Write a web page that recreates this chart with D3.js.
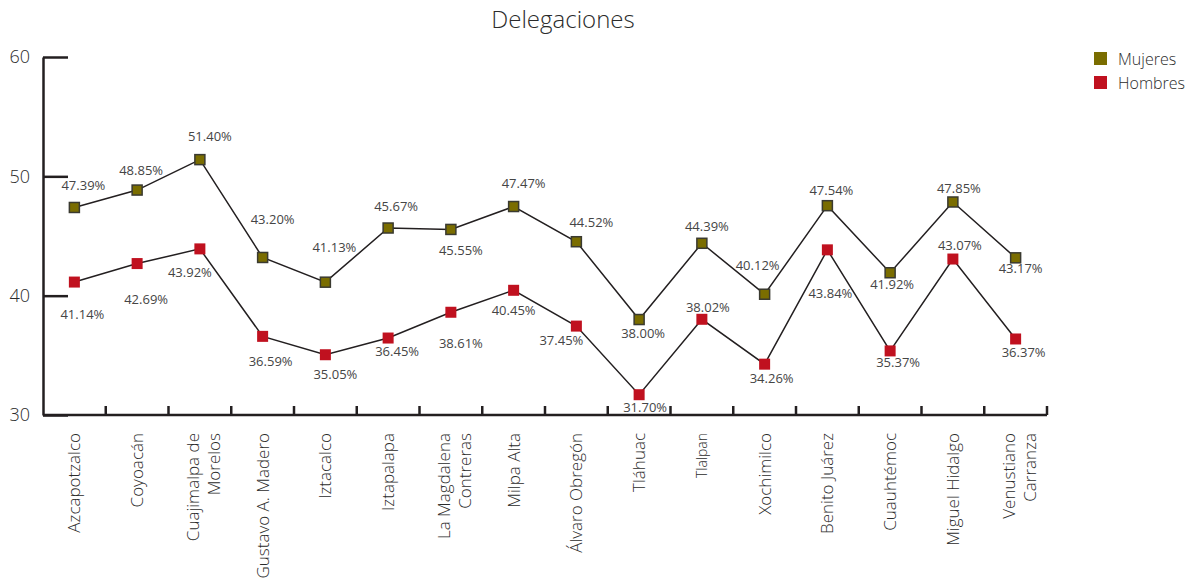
<!DOCTYPE html>
<html>
<head>
<meta charset="utf-8">
<script src="https://cdn.jsdelivr.net/npm/d3@7"></script>
<style>
	body { margin: 0; background: #fff; }
	svg { display: block; font-family: "Open Sans", "Noto Sans", sans-serif; font-weight: 300; }
</style>
</head>
<body>
<svg></svg>
<script>
var svg = d3.select("svg"),
	width = 1198,
	height = 588;

svg.attr("width", width).attr("height", height);

// Data
var delegaciones = [
	["Azcapotzalco"], ["Coyoacán"], ["Cuajimalpa de", "Morelos"], ["Gustavo A. Madero"],
	["Iztacalco"], ["Iztapalapa"], ["La Magdalena", "Contreras"], ["Milpa Alta"],
	["Álvaro Obregón"], ["Tláhuac"], ["Tlalpan"], ["Xochimilco"],
	["Benito Juárez"], ["Cuauhtémoc"], ["Miguel Hidalgo"], ["Venustiano", "Carranza"]
];
var mujeres = [47.39, 48.85, 51.40, 43.20, 41.13, 45.67, 45.55, 47.47, 44.52, 38.00, 44.39, 40.12, 47.54, 41.92, 47.85, 43.17];
var hombres = [41.14, 42.69, 43.92, 36.59, 35.05, 36.45, 38.61, 40.45, 37.45, 31.70, 38.02, 34.26, 43.84, 35.37, 43.07, 36.37];
var yTicks = [30, 40, 50, 60];

// label nudges (dx, dy) so they sit like in the original
var offMujeres = [[9,-22],[4,-20],[10,-23],[10,-38],[9,-35],[8,-22],[10,21],[10,-23],[15,-19],[4,14],[5,-17],[-7,-29],[4,-15],[2,12],[6,-14],[5,11]];
var offHombres = [[8,32],[9,36],[-10,24],[8,25],[10,20],[9,13],[10,31],[0,20],[-15,14],[6,13],[6,-12],[7,14],[3,44],[8,12],[7,-14],[8,13]];

var series = [
	{ name: "Mujeres", values: mujeres, off: offMujeres, color: "#7a6d00", stroke: "#3a3a30" },
	{ name: "Hombres", values: hombres, off: offHombres, color: "#c0111f", stroke: null }
];

// Scales
var x = d3.scaleBand()
	.domain(d3.range(delegaciones.length))
	.range([43, 1047]);

var y = d3.scaleLinear()
	.domain([30, 60])
	.range([415, 57]);

var ink = "#231f20";

// Title
svg.append("text")
	.attr("x", 563)
	.attr("y", 28)
	.attr("text-anchor", "middle")
	.style("font-size", "24px")
	.style("fill", "#2b2b2b")
	.text("Delegaciones");

// Y axis (ticks point inward)
var yAxis = svg.append("g")
	.attr("transform", "translate(43,0)")
	.call(d3.axisLeft(y).tickValues(yTicks).tickSizeInner(-25).tickSizeOuter(0).tickPadding(13));
yAxis.select(".domain").attr("stroke", ink).attr("stroke-width", 2.5);
yAxis.selectAll(".tick line").attr("stroke", ink).attr("stroke-width", 2.5);
yAxis.selectAll(".tick text")
	.style("font-size", "18px")
	.style("font-family", "'Open Sans', sans-serif")
	.style("font-weight", 300)
	.attr("fill", "#2b2b2b");

// X axis line + upward ticks on band edges
var xg = svg.append("g");
xg.append("line")
	.attr("x1", x.range()[0]).attr("x2", x.range()[1])
	.attr("y1", y(30)).attr("y2", y(30))
	.attr("stroke", ink).attr("stroke-width", 2.5);

var edges = x.domain().slice(1).map((i) => x(i)).concat([x.range()[1]]);
xg.selectAll("line.tick")
	.data(edges)
	.enter().append("line")
	.attr("class", "tick")
	.attr("x1", (d) => d).attr("x2", (d) => d)
	.attr("y1", y(30)).attr("y2", y(30) - 9)
	.attr("stroke", ink).attr("stroke-width", 2.5);

// Category labels, rotated
var catLabels = xg.selectAll("text.cat")
	.data(delegaciones)
	.enter().append("text")
	.attr("class", "cat")
	.attr("transform", (d, i) => "translate(" + (x(i) + x.bandwidth() / 2) + ",433) rotate(-90)")
	.attr("text-anchor", "end")
	.style("font-size", (d) => d[0] == "Tlalpan" ? "14px" : "17px")
	.style("fill", "#2b2b2b");

catLabels.each(function (d) {
	var t = d3.select(this);
	d.forEach((line, j) => {
		var shift = d.length > 1 ? (j - (d.length - 1) / 2) * 21 + 4 : 0;
		t.append("tspan")
			.attr("x", 0)
			.attr("y", shift)
			.attr("dy", "0.35em")
			.text(line);
	});
});

// Lines
var line = d3.line()
	.x((d, i) => x(i) + x.bandwidth() / 2)
	.y((d) => y(d));

series.forEach((s) => {
	svg.append("path")
		.datum(s.values)
		.attr("d", line)
		.attr("fill", "none")
		.attr("stroke", ink)
		.attr("stroke-width", 1.5);
});

// Markers and value labels
series.forEach((s) => {
	var g = svg.append("g");
	var sz = s.stroke ? 10 : 11;

	g.selectAll("rect")
		.data(s.values)
		.enter().append("rect")
		.attr("x", (d, i) => x(i) + x.bandwidth() / 2 - sz / 2)
		.attr("y", (d) => y(d) - sz / 2)
		.attr("width", sz)
		.attr("height", sz)
		.attr("fill", s.color)
		.attr("stroke", s.stroke || "none")
		.attr("stroke-width", 1.5);

	g.selectAll("text")
		.data(s.values)
		.enter().append("text")
		.attr("x", (d, i) => x(i) + x.bandwidth() / 2 + s.off[i][0])
		.attr("y", (d, i) => y(d) + s.off[i][1])
		.attr("dy", "0.35em")
		.attr("text-anchor", "middle")
		.style("font-size", "13px")
		.style("font-weight", 400)
		.style("fill", "#454545")
		.text((d) => d.toFixed(2) + "%");
});

// Legend
var legend = svg.append("g")
	.attr("transform", "translate(1094,52)");

var item = legend.selectAll("g")
	.data(series)
	.enter().append("g")
	.attr("transform", (d, i) => "translate(0," + (i * 24) + ")");

item.append("rect")
	.attr("width", 13)
	.attr("height", 13)
	.attr("fill", (d) => d.color);

item.append("text")
	.attr("x", 24)
	.attr("y", 7)
	.attr("dy", "0.35em")
	.style("font-size", "16px")
	.style("fill", "#2b2b2b")
	.text((d) => d.name);
</script>
</body>
</html>
